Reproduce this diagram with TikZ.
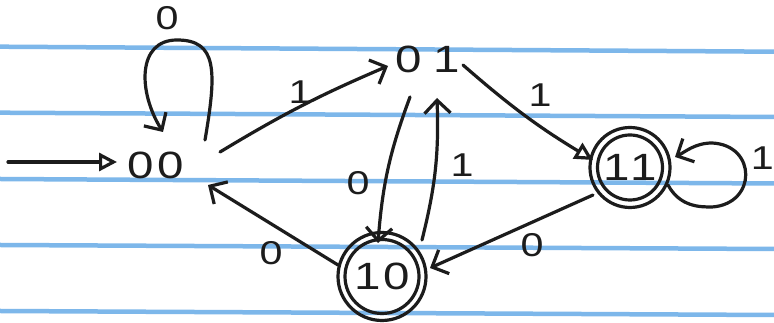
\documentclass[tikz,border=0pt]{standalone}
\usepackage{fontspec}
\setmainfont[FakeStretch=1.25]{Liberation Sans}
\usetikzlibrary{arrows.meta}
\definecolor{ruleblue}{RGB}{125,183,234}
\definecolor{ink}{RGB}{28,28,28}
\tikzset{
  ruled/.style={draw=ruleblue, line width=4.5pt},
  edge/.style={draw=ink, line width=3.2pt, line cap=round, -{Straight Barb[length=13pt,width=26pt]}},
  openedge/.style={draw=ink, line width=3.2pt, line cap=round, -{Triangle[open,length=18pt,width=18pt,line width=3.2pt]}},
  statetext/.style={font=\fontsize{38}{40}\selectfont, text=ink, inner sep=0pt},
  accstate/.style={circle, draw=ink, line width=3.2pt, inner sep=0pt, font=\fontsize{38}{40}\selectfont, text=ink},
  lab/.style={font=\fontsize{33}{35}\selectfont, text=ink, inner sep=0pt}
}
\begin{document}
\begin{tikzpicture}[x=1pt,y=1pt]
\useasboundingbox (0,0) rectangle (774,323);
\fill[white] (0,0) rectangle (774,323);
% ruled paper lines
\draw[ruled] (0,276.3) -- (774,271.3);
\draw[ruled] (0,210.3) -- (774,206);
\draw[ruled] (0,144) -- (774,139.5);
\draw[ruled] (0,78) -- (774,74);
\draw[ruled] (0,12) -- (774,8);
% states
\node[statetext] (n00) at (156,158) {0\hspace{4pt}0};
\node[statetext] (n01) at (428,264) {0\hspace{12pt}1};
\node[accstate, minimum size=80pt] (n11) at (630,155.5) {1\hspace{1pt}1};
\draw[ink, line width=3.2pt] (n11.center) circle (32.5);
\node[accstate, minimum size=88pt] (n10) at (382,46.5) {1\hspace{3pt}0};
\draw[ink, line width=3.2pt] (n10.center) circle (37);
\coordinate (start) at (8,161);
% connectors
\draw[openedge] (start) -- ([shift={(-39,3)}]n00.center);
\draw[edge] ([shift={(49,25)}]n00.center) .. controls +(12,70) and +(40,0) .. ([shift={(21,125)}]n00.center)
   .. controls +(-40,0) and +(-25,40) .. ([shift={(7,33)}]n00.center);
\draw[edge] ([shift={(64,13)}]n00.center) to[bend left=4] ([shift={(-40,-7)}]n01.center);
\draw[openedge] ([shift={(35,-6)}]n01.center) to[bend right=5] ([shift={(-37,7.5)}]n11.center);
\draw[edge] ([shift={(-18,-38)}]n01.center) to[bend right=8] ([shift={(-4,33.5)}]n10.center);
\draw[edge] ([shift={(40,36.5)}]n10.center) to[bend right=8] ([shift={(9,-39)}]n01.center);
\draw[edge] ([shift={(-37,-27.5)}]n11.center) -- ([shift={(48,8.5)}]n10.center);
\draw[edge] ([shift={(-44,11.5)}]n10.center) -- ([shift={(52,-20)}]n00.center);
\draw[edge] ([shift={(38,-17.5)}]n11.center) .. controls +(12,-22) and +(-12,0) .. ([shift={(82,-39.5)}]n11.center)
   .. controls +(45,3) and +(45,-2) .. ([shift={(82,24.5)}]n11.center)
   .. controls +(-17,0) and +(10,5) .. ([shift={(45,10.5)}]n11.center);
% labels
\node[lab] (l1) at (167,305) {0};
\node[lab] (l2) at (300,231) {1};
\node[lab] (l3) at (540,228) {1};
\node[lab] (l4) at (358,140) {0};
\node[lab] (l5) at (462,158) {1};
\node[lab] (l6) at (532,78) {0};
\node[lab] (l7) at (271,70) {0};
\node[lab, anchor=east] (l8) at (774,165) {1};
\end{tikzpicture}
\end{document}
